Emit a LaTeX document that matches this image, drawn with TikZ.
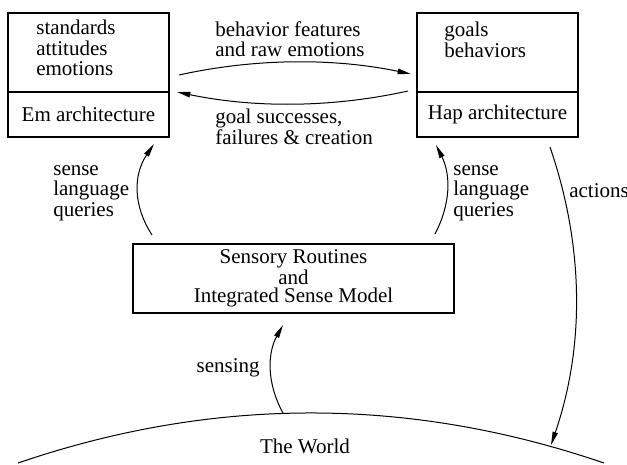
\documentclass[tikz,border=0pt]{standalone}
\usepackage{fontspec}
\setmainfont{Liberation Serif}
\usetikzlibrary{arrows.meta}
\begin{document}
\def\pxu{0.6pt}
\begin{tikzpicture}[x=0.6pt,y=-0.6pt,
  part/.style={draw,line width=0.75pt,inner sep=0pt},
  lbl/.style={font=\fontsize{12.6}{12.3}\selectfont,align=left,inner sep=0pt},
  flow/.style={line width=0.6pt,-{Triangle[length=8pt,width=3.2pt]}}]
\useasboundingbox (0,0) rectangle (627,465);

% Em architecture box (two stacked parts)
\node[part,minimum width=161*\pxu,minimum height=79*\pxu] (emtop) at (88.5,52.5) {};
\node[part,minimum width=161*\pxu,minimum height=45*\pxu] (embot) at (88.5,114.5) {};
\node[lbl,anchor=west] (emtxt) at (36,48) {standards\\attitudes\\emotions};
\node[lbl] (emname) at (emtop.center |- embot.center) {Em architecture};

% Hap architecture box
\node[part,minimum width=161*\pxu,minimum height=79*\pxu] (haptop) at (497.5,52.5) {};
\node[part,minimum width=161*\pxu,minimum height=45*\pxu] (hapbot) at (497.5,114.5) {};
\node[lbl,anchor=west] (haptxt) at (444,40) {goals\\behaviors};
\node[lbl] (hapname) at (hapbot.center) {Hap architecture};

% Sensory routines box
\node[part,minimum width=321*\pxu,minimum height=69*\pxu,
      font=\fontsize{12.6}{11.2}\selectfont,align=center] (sense) at (293.5,278.5)
      {Sensory Routines\\and\\Integrated Sense Model};

% The world
\coordinate (wl) at (18,463);
\coordinate (wr) at (604,463);
\draw[line width=0.6pt] (wl) .. controls (213.3,396.3) and (408.7,396.3) .. (wr);
\node[lbl] (world) at (305,446) {The World};

% Connector end points
\coordinate (emr1) at (179,75);
\coordinate (hapl1) at (411,74);
\coordinate (hapl2) at (408,91);
\coordinate (emr2) at (177,92);
\coordinate (senseL) at (152,235);
\coordinate (emb) at (154,144);
\coordinate (senseR) at (435,234);
\coordinate (hapb1) at (436,145);
\coordinate (hapb2) at (550,147);
\coordinate (worldR) at (551,445);
\coordinate (worldT) at (283,413);
\coordinate (senseB) at (283,325);

% Connectors
\draw[flow] (emr1) .. controls (256,58) and (334,58) .. (hapl1);
\draw[flow] (hapl2) .. controls (331,108) and (254,108) .. (emr2);
\draw[flow] (senseL) .. controls (132.7,205) and (133.3,174.7) .. (emb);
\draw[flow] (senseR) .. controls (450.7,204) and (451,175) .. (hapb1);
\draw[flow] (hapb2) .. controls (584,246) and (585,346) .. (worldR);
\draw[flow] (worldT) .. controls (267,384) and (267,354) .. (senseB);

% Connector labels
\node[lbl,anchor=west] (l1) at (215,39) {behavior features\\and raw emotions};
\node[lbl,anchor=west] (l2) at (215,127) {goal successes,\\failures \& creation};
\node[lbl,anchor=west] (l3) at (53,193) {sense\\language\\queries};
\node[lbl,anchor=west] (l4) at (453,193) {sense\\language\\queries};
\node[lbl,anchor=west] (l5) at (569,191) {actions};
\node[lbl,anchor=east] (l6) at (260,368) {sensing};
\end{tikzpicture}
\end{document}
